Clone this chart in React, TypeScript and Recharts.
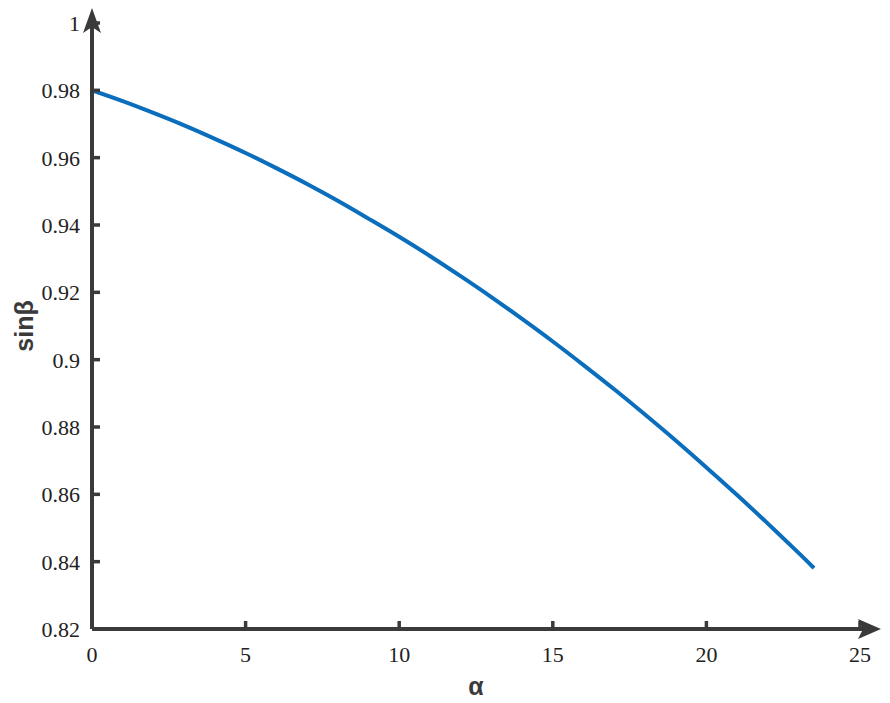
import React from 'react';
import { LineChart, Line, XAxis, YAxis, ReferenceDot } from 'recharts';

const alpha = [0, 1, 2, 3, 4, 5, 6, 7, 8, 9, 10, 11, 12, 13, 14, 15, 16, 17, 18, 19, 20, 21, 22, 23, 23.5];
const sinBeta = [
  0.98, 0.9768, 0.9733, 0.9696, 0.9656, 0.9614, 0.9569, 0.9522, 0.9472, 0.9419,
  0.9365, 0.9308, 0.9248, 0.9186, 0.9121, 0.9054, 0.8984, 0.8912, 0.8837, 0.876,
  0.868, 0.8598, 0.8513, 0.8426, 0.8381,
];
const xTicks = [0, 5, 10, 15, 20, 25];
const yTicks = [0.82, 0.84, 0.86, 0.88, 0.9, 0.92, 0.94, 0.96, 0.98, 1];

const data = alpha.map((a, i) => ({ a, s: sinBeta[i] }));

const AXIS = '#3a3a3a';
const TXT = '#222';
const SERIF = "'Liberation Serif', 'Times New Roman', Times, 'DejaVu Serif', serif";
const SANS = "'Liberation Sans', Arial, Helvetica, sans-serif";

const fmt = (v: number) => String(Number(v.toFixed(2)));

const XTick = (props: any) => {
  const { x, y, payload } = props;
  return (
    <g>
      {payload.value !== 0 && (
        <line x1={x} y1={y} x2={x} y2={y - 8} stroke={AXIS} strokeWidth={3.5} />
      )}
      <text x={x} y={y + 33} textAnchor="middle" style={{ fontFamily: SERIF, fontSize: 22 }} fill={TXT}>
        {fmt(payload.value)}
      </text>
    </g>
  );
};

const YTick = (props: any) => {
  const { x, y, payload } = props;
  return (
    <g>
      {payload.value !== 0.82 && (
        <line x1={x} y1={y} x2={x + 8} y2={y} stroke={AXIS} strokeWidth={3.5} />
      )}
      <text x={x - 12} y={y + 8} textAnchor="end" style={{ fontFamily: SERIF, fontSize: 22 }} fill={TXT}>
        {fmt(payload.value)}
      </text>
    </g>
  );
};

const XArrow = (props: any) => {
  const { cx, cy } = props;
  return (
    <g>
      <line x1={cx - 2} y1={cy} x2={cx + 10} y2={cy} stroke={AXIS} strokeWidth={4} />
      <polygon
        points={`${cx + 21},${cy} ${cx - 2},${cy - 10} ${cx + 3},${cy} ${cx - 2},${cy + 10}`}
        fill={AXIS}
      />
    </g>
  );
};

const YArrow = (props: any) => {
  const { cx, cy } = props;
  return (
    <g>
      <line x1={cx} y1={cy + 2} x2={cx} y2={cy - 6} stroke={AXIS} strokeWidth={4} />
      <polygon
        points={`${cx},${cy - 15} ${cx - 9},${cy + 10} ${cx},${cy + 4} ${cx + 9},${cy + 10}`}
        fill={AXIS}
      />
    </g>
  );
};

const XLabel = (props: any) => {
  const vb = props.viewBox;
  return (
    <text x={vb.x + vb.width / 2} y={vb.y + 66} textAnchor="middle" style={{ fontFamily: SANS, fontWeight: 'bold', fontSize: 25 }} fill={AXIS}>
      α
    </text>
  );
};

const YLabel = (props: any) => {
  const vb = props.viewBox;
  const cx = 33;
  const cy = vb.y + vb.height / 2;
  return (
    <text x={cx} y={cy} transform={`rotate(-90 ${cx} ${cy})`} textAnchor="middle" style={{ fontFamily: SANS, fontWeight: 'bold', fontSize: 25 }} fill={AXIS}>
      sinβ
    </text>
  );
};

export default function App() {
  return (
    <div style={{ position: 'absolute', left: 0, top: 0, width: 890, height: 703, background: '#fff' }}>
      <LineChart width={890} height={703} data={data} margin={{ top: 23, right: 30, bottom: 0, left: 0 }}>
        <XAxis
          dataKey="a"
          type="number"
          domain={[0, 25]}
          ticks={xTicks}
          interval={0}
          height={74}
          tickSize={0}
          tickMargin={0}
          tickLine={false}
          tick={<XTick />}
          axisLine={{ stroke: AXIS, strokeWidth: 4 }}
          allowDataOverflow
          label={<XLabel />}
        />
        <YAxis
          type="number"
          domain={[0.82, 1]}
          ticks={yTicks}
          interval={0}
          width={92}
          tickSize={0}
          tickMargin={0}
          tickLine={false}
          tick={<YTick />}
          axisLine={{ stroke: AXIS, strokeWidth: 4 }}
          allowDataOverflow
          label={<YLabel />}
        />
        <Line
          type="natural"
          dataKey="s"
          stroke="#0a6ebd"
          strokeWidth={4}
          dot={false}
          isAnimationActive={false}
        />
        <ReferenceDot x={25} y={0.82} ifOverflow="visible" shape={<XArrow />} />
        <ReferenceDot x={0} y={1} ifOverflow="visible" shape={<YArrow />} />
      </LineChart>
    </div>
  );
}
